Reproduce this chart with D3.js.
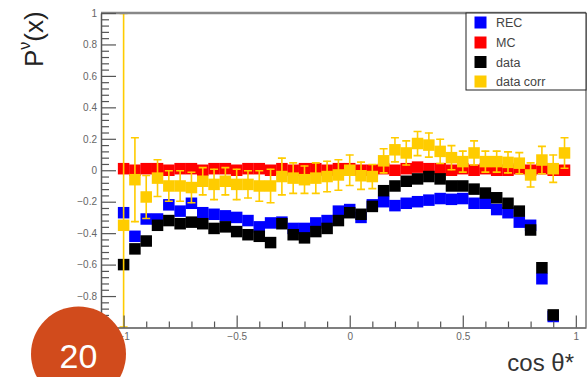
<!DOCTYPE html>
<html><head><meta charset="utf-8">
<script src="https://cdn.jsdelivr.net/npm/d3@7"></script>
<style>
html,body{margin:0;padding:0;background:#fff;}
svg{display:block;font-family:"Liberation Sans",Arial,Helvetica,sans-serif;}
</style></head><body>
<svg id="c" width="588" height="377"></svg>
<script>
// ---- data ----
const binCenters = [-1.00,-0.95,-0.90,-0.85,-0.80,-0.75,-0.70,-0.65,-0.60,-0.55,
  -0.50,-0.45,-0.40,-0.35,-0.30,-0.25,-0.20,-0.15,-0.10,-0.05,
  0.00,0.05,0.10,0.15,0.20,0.25,0.30,0.35,0.40,0.45,
  0.50,0.55,0.60,0.65,0.70,0.75,0.80,0.85,0.90,0.95];
const recValues = [-0.27,-0.42,-0.31,-0.31,-0.22,-0.26,-0.21,-0.27,-0.28,-0.29,
  -0.30,-0.32,-0.36,-0.335,-0.33,-0.37,-0.37,-0.335,-0.32,-0.26,
  -0.25,-0.30,-0.22,-0.20,-0.225,-0.21,-0.20,-0.19,-0.18,-0.185,
  -0.18,-0.21,-0.21,-0.25,-0.27,-0.33,-0.35,-0.69,-0.93];
const mcValues = [0.01,0.0,0.01,0.01,0.0,0.01,0.01,0.0,0.01,0.01,
  0.0,0.01,0.01,0.0,0.01,0.0,0.01,0.01,0.0,0.01,
  0.01,0.0,0.0,0.01,0.0,0.01,0.02,0.01,0.01,0.0,
  0.01,0.0,0.01,0.0,0.0,0.01,0.0,0.01,0.0,0.0];
const mcErrors = [0.02,0.02,0.02,0.02,0.02,0.02,0.02,0.02,0.02,0.02,
  0.02,0.02,0.02,0.02,0.02,0.02,0.02,0.02,0.02,0.02,
  0.02,0.02,0.02,0.02,0.02,0.02,0.02,0.02,0.02,0.02,
  0.02,0.02,0.02,0.02,0.02,0.02,0.02,0.02,0.02,0.02];
const dataValues = [-0.60,-0.50,-0.45,-0.35,-0.32,-0.34,-0.33,-0.34,-0.37,-0.36,
  -0.39,-0.41,-0.42,-0.46,-0.34,-0.41,-0.43,-0.39,-0.37,-0.32,
  -0.27,-0.28,-0.23,-0.13,-0.10,-0.07,-0.055,-0.04,-0.055,-0.10,
  -0.10,-0.12,-0.145,-0.175,-0.21,-0.26,-0.38,-0.62,-0.92];
const corrValues = [-0.35,-0.06,-0.17,-0.05,-0.10,-0.10,-0.11,-0.07,-0.09,-0.07,
  -0.09,-0.09,-0.10,-0.10,-0.04,-0.05,-0.06,-0.05,-0.04,-0.03,
  0.00,-0.035,-0.04,0.06,0.13,0.11,0.17,0.16,0.12,0.08,
  0.055,0.11,0.055,0.055,0.05,0.045,-0.03,0.065,0.01,0.11];
const corrErrors = [1.5,0.27,0.14,0.12,0.10,0.10,0.10,0.09,0.10,0.09,
  0.10,0.09,0.10,0.11,0.12,0.10,0.09,0.10,0.10,0.10,
  0.10,0.09,0.08,0.08,0.08,0.08,0.08,0.08,0.08,0.08,
  0.07,0.08,0.07,0.07,0.07,0.07,0.08,0.09,0.09,0.10];
const yMajorTicks = [-1,-0.8,-0.6,-0.4,-0.2,0,0.2,0.4,0.6,0.8,1];
const xMajorTicks = [-1,-0.5,0,0.5,1];
const xMinorTicks = [-0.9,-0.8,-0.7,-0.6,-0.4,-0.3,-0.2,-0.1,0.1,0.2,0.3,0.4,0.6,0.7,0.8,0.9];
const legendNames = ["REC","MC","data","data corr"];
const legendColors = ["#0000ff","#ff0000","#000000","#ffcc00"];
const xTitle = "cos θ*";
const badgeText = "20";

// ---- drawing ----
const svg = d3.select("#c");
const L = 101, R = 586, T = 13, B = 327.5;
const x = d3.scaleLinear().domain([-1.1, 1.045]).range([L, R]);
const y = d3.scaleLinear().domain([-1, 1]).range([B, T]);
const fmt = d3.format("~g");
const MS = 11.5;

const plot = svg.append("g");
const clip = svg.append("clipPath").attr("id","pc").append("rect")
  .attr("x", L).attr("y", T).attr("width", R-L).attr("height", B-T);
const dg = plot.append("g").attr("clip-path","url(#pc)");

// frame
svg.append("line").attr("x1",L).attr("x2",R).attr("y1",T).attr("y2",T)
  .attr("stroke","#888").attr("stroke-width",2.5);
svg.append("line").attr("x1",R).attr("x2",R).attr("y1",T).attr("y2",B)
  .attr("stroke","#777").attr("stroke-width",1.5);

function squares(vals, color){
  dg.append("g").selectAll("rect").data(vals).join("rect")
    .attr("x",(d,i)=>x(binCenters[i])-MS/2)
    .attr("y",d=>y(d)-MS/2)
    .attr("width",MS).attr("height",MS)
    .attr("fill",color);
}
function errbars(vals, errs, color, cap){
  const g = dg.append("g").attr("stroke",color).attr("stroke-width",1.6).attr("fill","none");
  vals.forEach((v,i)=>{
    const cx = x(binCenters[i]);
    const lo = Math.max(-1, v-errs[i]), hi = Math.min(1, v+errs[i]);
    g.append("line").attr("x1",cx).attr("x2",cx).attr("y1",y(lo)).attr("y2",y(hi));
    if(cap){
      g.append("line").attr("x1",cx-cap).attr("x2",cx+cap).attr("y1",y(hi)+0.5).attr("y2",y(hi)+0.5);
      g.append("line").attr("x1",cx-cap).attr("x2",cx+cap).attr("y1",y(lo)-0.5).attr("y2",y(lo)-0.5);
    }
  });
}

squares(recValues, legendColors[0]);
errbars(mcValues, mcErrors, legendColors[1], 0);
squares(mcValues, legendColors[1]);
squares(dataValues, legendColors[2]);
errbars(corrValues, corrErrors, legendColors[3], 4);
squares(corrValues, legendColors[3]);

// axes
const axCol = "#555";
const yAx = svg.append("g").attr("transform",`translate(${L},0)`)
  .call(d3.axisLeft(y).tickValues(yMajorTicks).tickSizeInner(-15).tickSizeOuter(0).tickPadding(4).tickFormat(fmt));
const yMinor = d3.range(-1, 1.0001, 0.04).map(v=>Math.round(v*100)/100)
  .filter(v=>!yMajorTicks.some(m=>Math.abs(m-v)<1e-6));
svg.append("g").attr("transform",`translate(${L},0)`)
  .call(d3.axisLeft(y).tickValues(yMinor).tickSizeInner(-8).tickSizeOuter(0).tickFormat(""))
  .call(g=>g.select(".domain").remove());
const xAx = svg.append("g").attr("transform",`translate(0,${B})`)
  .call(d3.axisBottom(x).tickValues(xMajorTicks).tickSizeInner(-12).tickSizeOuter(0).tickPadding(5).tickFormat(fmt));
svg.append("g").attr("transform",`translate(0,${B})`)
  .call(d3.axisBottom(x).tickValues(xMinorTicks).tickSizeInner(-6).tickSizeOuter(0).tickFormat(""))
  .call(g=>g.select(".domain").remove());
svg.selectAll(".domain").attr("stroke",axCol).attr("stroke-width",1.5);
svg.selectAll(".tick line").attr("stroke",axCol).attr("stroke-width",1.2);
svg.selectAll(".tick text").attr("fill","#666").attr("font-size",10)
  .attr("font-family","'Liberation Sans',Arial,sans-serif");
xAx.selectAll(".tick text").attr("dy","0.71em");

// legend
const lg = svg.append("g");
lg.append("rect").attr("x",466).attr("y",T).attr("width",R-466).attr("height",77)
  .attr("fill","#fff").attr("stroke","#222").attr("stroke-width",1);
const ly = [22.5,42.5,62,81.5];
legendNames.forEach((n,i)=>{
  lg.append("rect").attr("x",474.5).attr("y",ly[i]-6).attr("width",12).attr("height",12)
    .attr("fill",legendColors[i]);
  lg.append("text").attr("x",496).attr("y",ly[i]+4.5).attr("font-size",12.5)
    .attr("fill","#444").text(n);
});

// axis titles
svg.append("text").attr("x",574).attr("y",371).attr("text-anchor","end")
  .attr("font-size",24).attr("fill","#333").text(xTitle);
const yt = svg.append("text").attr("transform","translate(43,67) rotate(-90)")
  .attr("font-size",26).attr("fill","#222");
yt.append("tspan").text("P");
yt.append("tspan").attr("font-size",16).attr("dy",-13).text("ν");
yt.append("tspan").attr("dy",13).text("(x)");

// badge
svg.append("circle").attr("cx",78.5).attr("cy",354).attr("r",47.5).attr("fill","#d14b1c");
svg.append("text").attr("x",78.5).attr("y",367.5).attr("text-anchor","middle")
  .attr("font-size",34).attr("fill","#fff").text(badgeText);
</script>
</body></html>
